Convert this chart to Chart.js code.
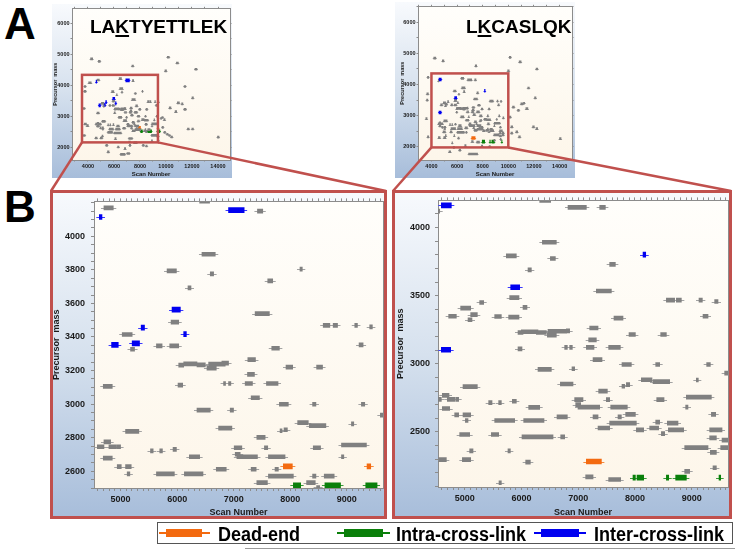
<!DOCTYPE html>
<html><head><meta charset="utf-8">
<script src="https://cdn.jsdelivr.net/npm/chart.js@4.4.1/dist/chart.umd.min.js"></script>
<style>
body{margin:0;width:737px;height:549px;background:#fff;position:relative;overflow:hidden;font-family:"Liberation Sans",Arial,sans-serif;}
.abs{position:absolute;}
canvas{display:block;}
.frameB{position:absolute;border:3px solid #c0504d;box-sizing:border-box;pointer-events:none;}
.big{position:absolute;font-weight:bold;font-size:44px;line-height:44px;color:#000;}
.pep{position:absolute;font-weight:bold;font-size:19px;line-height:19px;color:#000;white-space:nowrap;}
.pep u{text-decoration-thickness:2px;text-underline-offset:2px;}
.lt{position:absolute;font-weight:bold;font-size:20px;line-height:20px;color:#000;white-space:nowrap;transform:scaleX(0.9);transform-origin:left top;}
</style></head><body>

<div class="abs" style="left:52px;top:4px;"><canvas id="cA1" width="180" height="174"></canvas></div>
<div class="abs" style="left:395px;top:2px;"><canvas id="cA2" width="180" height="176"></canvas></div>
<div class="abs" style="left:50px;top:190px;"><canvas id="cB1" width="337" height="329"></canvas></div>
<div class="abs" style="left:392px;top:190px;"><canvas id="cB2" width="340" height="329"></canvas></div>
<div class="frameB" style="left:50px;top:190px;width:337px;height:329px;"></div>
<div class="frameB" style="left:392px;top:190px;width:340px;height:329px;"></div>

<div class="big" style="left:4px;top:2px;">A</div>
<div class="big" style="left:4px;top:185px;">B</div>
<div class="pep" style="left:90px;top:17px;">LA<u>K</u>TYETTLEK</div>
<div class="pep" style="left:466px;top:17px;">L<u>K</u>CASLQK</div>

<svg class="abs" id="conn" width="737" height="549" style="left:0;top:0;pointer-events:none;"></svg>

<div class="abs" style="left:157px;top:522px;width:576px;height:22px;border:1px solid #555;box-sizing:border-box;background:#fff;"></div>
<div class="abs" style="left:245px;top:548px;width:490px;height:1px;background:#9a9a9a;"></div>
<div class="abs" style="left:159px;top:532px;width:51px;height:2px;background:#f36a10;"></div>
<div class="abs" style="left:166px;top:529px;width:36px;height:8px;background:#f36a10;"></div>
<div class="lt" style="left:218px;top:524px;">Dead-end</div>
<div class="abs" style="left:337px;top:532px;width:53px;height:2px;background:#0a7f0a;"></div>
<div class="abs" style="left:344px;top:529px;width:39px;height:8px;background:#0a7f0a;"></div>
<div class="lt" style="left:396px;top:524px;">Intra-cross-link</div>
<div class="abs" style="left:534px;top:532px;width:52px;height:2px;background:#0000f0;"></div>
<div class="abs" style="left:541px;top:529px;width:38px;height:8px;background:#0000f0;"></div>
<div class="lt" style="left:594px;top:524px;">Inter-cross-link</div>

<script>
// ---------- DATA: [scan start, scan end, precursor mass] ----------
// LAKTYETTLEK (zoomed region, panel B left)
const leftGray = [
[4706,4871,4169],[6398,6574,4210],[7420,7514,4150],[6439,6674,3893],[5822,5987,3794],[6586,6645,3776],
[7602,7690,3734],[8172,8213,3804],[6192,6245,3693],[7379,7631,3539],[5893,6028,3489],[5029,5205,3415],
[5176,5247,3327],[5634,5734,3347],[5869,6028,3347],[8583,8700,3469],[8759,8836,3469],[9141,9188,3469],
[9405,9452,3460],[9217,9288,3353],[7673,7808,3333],[7250,7385,3265],[6028,6116,3232],[6116,6351,3240],
[6351,6498,3234],[6527,6692,3214],[6557,6850,3238],[6791,6909,3244],[7925,8043,3220],[8466,8571,3220],
[7244,7367,3177],[4694,4853,3106],[6016,6098,3113],[6821,6856,3123],[6909,6950,3123],[7203,7332,3123],
[7579,7784,3123],[7309,7455,3038],[7808,7966,2999],[8395,8454,2999],[9258,9317,2999],[9593,9650,2934],
[6351,6586,2964],[6938,6997,2964],[9082,9123,2882],[8131,8319,2890],[8337,8630,2872],[6733,6968,2857],
[5088,5323,2837],[7820,7855,2841],[7890,7949,2847],[7409,7556,2802],[4706,4824,2775],[4589,4706,2746],
[4794,4929,2746],[4941,5000,2746],[5529,5576,2721],[5693,5740,2721],[5928,5987,2730],[7009,7144,2740],
[7543,7602,2740],[8906,9347,2756],[8407,8536,2740],[4694,4853,2678],[6216,6398,2686],[7027,7115,2701],
[7056,7420,2686],[7614,7908,2686],[8906,8947,2686],[4941,5012,2627],[5088,5188,2627],[5117,5164,2584],
[5634,5951,2584],[6128,6457,2584],[6692,6868,2612],[7309,7397,2612],[7731,7790,2612],[7614,8055,2571],
[8395,8454,2571],[8601,8777,2571],[7409,7596,2532],[8289,8442,2532],[8466,8520,2503]
];
const leftBlue = [[4624,4671,4115],[6909,7185,4156],[5910,6057,3563],[5364,5423,3456],[6116,6163,3417],[4841,4959,3353],[5205,5335,3362]];
const leftOrange = [[7878,8037,2629],[9358,9423,2629]];
const leftGreen = [[8055,8184,2516],[8613,8889,2516],[9335,9535,2516]];
// LAKTYETTLEK overview marks outside the zoomed region (panel A left)
const leftOverviewExtra = [
[4200,4360,4850],[4800,4940,4770],[7380,7500,4620],[10100,10250,4900],[10800,10950,4715],[9920,10040,4460],[12230,12380,4515],
[11400,11520,3960],[12000,12110,3590],[10870,11030,3430],[10250,10380,3270],[11390,11540,3220],[11200,11300,3400],[10700,10820,3150],
[9680,9780,2960],[9830,9930,2890],[9700,9800,2640],[9850,9960,2480],[10050,10160,2420],[10380,10500,2330],[10220,10320,2380],
[11650,11780,2590],[11990,12110,2590],[13960,14080,2325],
[3700,3840,3800],[3720,3830,3960],[3640,3760,3250],[3650,3780,2380],[3720,3880,2750],[3900,4030,2700],[4050,4250,4080],
[4560,4700,2300],[4950,5100,2300],[5520,5880,2480],[6010,6560,2460],[5080,5150,2360],[6070,6160,2280],[7140,7410,2283],
[8880,9290,2385],[9320,9440,2350],[7130,7260,2170],[7540,7750,2150],[8880,8960,2210],[9380,9440,2240],
[5380,5500,2060],[6280,6380,2010],[7180,7280,2060],[8200,8310,2060],[8450,8550,2040],[5500,5620,1850],[6800,6900,1960],[6500,6850,1770],[7000,7200,1800]
];

// LKCASLQK (zoomed region, panel B right)
const rightGray = [
[6322,6515,4199],[6821,7144,4148],[7379,7479,4148],[4530,4560,4120],[6369,6615,3892],[5734,5910,3792],
[6510,6598,3773],[7555,7655,3730],[6116,6175,3689],[7320,7585,3534],[5793,5957,3486],[5264,5335,3450],
[4929,5106,3409],[6028,6098,3414],[5106,5223,3361],[4718,4853,3349],[5059,5129,3323],[5529,5646,3347],
[5775,5957,3342],[8554,8700,3467],[8730,8818,3467],[9129,9188,3467],[9405,9464,3457],[9200,9288,3349],
[7631,7790,3335],[7203,7350,3263],[5940,6028,3230],[5998,6292,3235],[6263,6439,3230],[6457,6615,3211],
[6468,6791,3239],[6791,6850,3242],[7896,8008,3215],[8454,8554,3215],[7185,7320,3175],[5940,6010,3110],
[6762,6809,3120],[6850,6897,3120],[7144,7279,3120],[7537,7743,3120],[7262,7420,3031],[7772,7937,2995],
[8366,8436,2995],[9264,9329,2995],[9581,9650,2931],[6292,6527,2959],[6891,6938,2964],[8113,8301,2883],
[8319,8612,2869],[9082,9117,2881],[6686,6909,2852],[4971,5223,2833],[7772,7819,2835],[7849,7908,2847],
[7361,7514,2799],[4606,4724,2768],[4530,4589,2739],[4694,4824,2739],[4841,4894,2739],[5423,5482,2715],
[5599,5646,2715],[5840,5910,2725],[6938,7085,2737],[7496,7555,2737],[8906,9347,2756],[8384,8513,2737],
[4606,4736,2672],[6128,6322,2680],[6956,7044,2701],[6997,7379,2682],[7573,7866,2682],[8894,8935,2682],
[4824,4894,2625],[4971,5106,2625],[7837,8008,2629],[9347,9423,2629],[5012,5059,2584],[5529,5881,2584],
[6040,6398,2584],[6627,6809,2610],[7262,7350,2610],[7702,7761,2610],[7555,8025,2565],[8366,8436,2572],
[8571,8759,2565],[7350,7555,2529],[8260,8418,2529],[8025,8154,2515],[8589,8859,2515],[9317,9535,2515],
[8466,8524,2488],[4912,5088,2481],[5470,5599,2481],[6010,6557,2464],[6692,6762,2464],[9317,9435,2457],
[9535,9650,2440],[8877,9288,2385],[9511,9650,2385],[9329,9435,2350],[5088,5147,2361],[5763,5805,2361],
[4542,4677,2297],[4959,5106,2297],[6075,6157,2278],[9376,9435,2237],[8877,8965,2211],[7132,7262,2170],
[7537,7749,2151],[5605,5646,2127]
];
const rightBlue = [[4589,4765,4163],[8143,8190,3801],[5811,5969,3562],[4589,4753,3103]];
const rightOrange = [[7144,7409,2283]];
const rightGreen = [[7966,8008,2165],[8037,8154,2165],[8554,8595,2165],[8718,8906,2165],[9482,9511,2165]];
// LKCASLQK overview marks outside the zoomed region (panel A right)
const rightOverviewExtra = [
[4180,4340,4850],[4850,4970,4760],[7420,7530,4600],[10080,10200,4870],[10850,11000,4730],[9950,10070,4440],[12170,12300,4500],
[11520,11640,3890],[12050,12160,3570],[10980,11140,3380],[10330,10470,3275],[11370,11530,3225],[11180,11280,3400],[10730,10850,3170],
[10080,10200,2955],[10210,10340,2640],[10600,10730,2480],[10810,10940,2320],[10210,10330,2440],[11900,12030,2640],[12170,12290,2585],[14000,14120,2265],
[3560,3660,2905],[3690,3790,2320],[3690,3790,4230],[3620,3720,3500],[3640,3760,3700],
[5370,5500,1840],[6160,6280,1895],[6900,7600,1770],[5700,5800,1980],[6600,6700,2040],[7900,8000,2020],[8500,8600,2010]
];

// Tick labels
const scanLabelsB = [5000,6000,7000,8000,9000];
const massLabelsBLeft = [2600,2800,3000,3200,3400,3600,3800,4000];
const massLabelsBRight = [2500,3000,3500,4000];
const scanLabelsA = [4000,6000,8000,10000,12000,14000];
const massLabelsA = [2000,3000,4000,5000,6000];

// Axis ranges and zoom boxes [scanMin, scanMax, massMin, massMax]
const rangeA1 = [2770,14923,1590,6479];
const rangeA2 = [2950,14973,1576,6513];
const rangeB1 = [4530,9640,2500,4208];
const rangeB2 = [4530,9640,2096,4199];
const zoomBoxA1 = [3540,9380,2158,4334];
const zoomBoxA2 = [4000,10000,1980,4357];

// ---------- rendering ----------
Chart.defaults.font.family = '"Liberation Sans", Arial, sans-serif';
const GRAY='#808080', BLUE='#0000f0', GREEN='#0a7f0a', ORANGE='#f36a10';

const framePlugin = {
  id:'frame',
  beforeDraw(chart){
    const {ctx,width,height,chartArea:a} = chart;
    ctx.save();
    const g = ctx.createLinearGradient(0,0,0,height);
    g.addColorStop(0,'#f8fafd'); g.addColorStop(0.5,'#d6e1ee'); g.addColorStop(1,'#a7bdda');
    ctx.fillStyle=g; ctx.fillRect(0,0,width,height);
    const g2 = ctx.createLinearGradient(0,a.top,0,a.bottom);
    g2.addColorStop(0,'#fffefb'); g2.addColorStop(1,'#fdf6ea');
    ctx.fillStyle=g2; ctx.fillRect(a.left,a.top,a.right-a.left,a.bottom-a.top);
    ctx.restore();
  }
};
const whiskerPlugin = {
  id:'whisker',
  beforeDatasetsDraw(chart,args,opts){
    const ctx=chart.ctx, a=chart.chartArea, ext=opts.ext||0;
    ctx.save(); ctx.beginPath(); ctx.rect(a.left,a.top,a.right-a.left,a.bottom-a.top); ctx.clip();
    ctx.lineWidth=1;
    chart.data.datasets.forEach((ds,i)=>{
      ctx.strokeStyle=ds.whiskerColor;
      chart.getDatasetMeta(i).data.forEach(el=>{
        const x0=Math.min(el.x,el.base)-ext, x1=Math.max(el.x,el.base)+ext;
        const y=Math.round(el.y)+0.5;
        ctx.beginPath(); ctx.moveTo(x0,y); ctx.lineTo(x1,y); ctx.stroke();
      });
    });
    ctx.restore();
  }
};
const boxPlugin = {
  id:'zoomBox',
  afterDatasetsDraw(chart,args,opts){
    if(!opts.box) return;
    const [x0,x1,y0,y1]=opts.box, sx=chart.scales.x, sy=chart.scales.y, ctx=chart.ctx;
    const L=sx.getPixelForValue(x0), R=sx.getPixelForValue(x1), T=sy.getPixelForValue(y1), B=sy.getPixelForValue(y0);
    ctx.save(); ctx.strokeStyle='#c0504d'; ctx.lineWidth=2.5; ctx.strokeRect(L,T,R-L,B-T); ctx.restore();
  }
};

// regular tick positions every `step` inside the axis range
const stepTicks = step => s => {
  const t=[];
  for (let v=Math.ceil(s.min/step)*step; v<=s.max+1e-9; v+=step) t.push({value:v});
  s.ticks=t;
};

function build(id,o){
  const mk = s => ({
    data: s.rows.map(r=>({x:[r[0],r[1]], y:r[2]})),
    backgroundColor:s.color, whiskerColor:s.whisker, barThickness:s.thick,
    borderWidth:0, grouped:false, xAxisID:'x', yAxisID:'y'
  });
  const lab = list => v => list.includes(v) ? String(v) : '';
  const fit = (prop,val) => s => { s[prop]=val; };
  const grid = () => ({display:true, drawOnChartArea:false, drawTicks:true, tickLength:o.tl, color:'#8c8c8c', offset:false});
  const border = {display:true, color:'#8c8c8c', width:1};
  const r=o.range;
  return new Chart(document.getElementById(id),{
    type:'bar',
    data:{datasets:o.series.map(mk)},
    options:{
      indexAxis:'y', responsive:false, animation:false, events:[],
      layout:{padding:{left:0,right:0,top:o.padTop,bottom:0}},
      plugins:{legend:{display:false}, tooltip:{enabled:false}, whisker:{ext:o.ext}, zoomBox:{box:o.box||null}},
      scales:{
        x:{type:'linear',position:'bottom',min:r[0],max:r[1],
          ticks:{autoSkip:false,maxRotation:0,callback:lab(o.xLabels),font:o.tickFont,color:'#1a1a1a',padding:o.xPad},
          afterBuildTicks:stepTicks(o.xStep),
          grid:grid(), border,
          title:{display:true,text:'Scan Number',font:o.xTitleFont,color:'#1a1a1a',padding:{top:0,bottom:o.xTitlePad}},
          afterFit:fit('height',o.xH)},
        y:{type:'linear',position:'left',offset:false,min:r[2],max:r[3],
          ticks:{autoSkip:false,callback:lab(o.yLabels),font:o.tickFont,color:'#1a1a1a',padding:o.yPad},
          afterBuildTicks:stepTicks(o.yStep),
          grid:grid(), border,
          title:{display:true,text:'Precursor  mass',font:o.yTitleFont,color:'#1a1a1a',padding:{top:o.yTitlePad,bottom:0}},
          afterFit:fit('width',o.yW)},
        x2:{type:'linear',position:'top',min:r[0],max:r[1],
          ticks:{display:false,autoSkip:false},
          afterBuildTicks:stepTicks(o.xStep),
          grid:grid(), border, afterFit:fit('height',o.x2H)},
        y2:{type:'linear',position:'right',offset:false,min:r[2],max:r[3],
          ticks:{display:false,autoSkip:false},
          afterBuildTicks:stepTicks(o.yStep),
          grid:grid(), border, afterFit:fit('width',o.y2W)}
      }
    },
    plugins:[framePlugin,whiskerPlugin,boxPlugin]
  });
}

function seriesSet(gray,orange,green,blue,tg,tc){
  return [
    {rows:gray,color:GRAY,whisker:'#a3a3a3',thick:tg},
    {rows:orange,color:ORANGE,whisker:'#f58a40',thick:tc},
    {rows:green,color:GREEN,whisker:'#3a9a3a',thick:tc},
    {rows:blue,color:BLUE,whisker:'#3a3aff',thick:tc}
  ];
}

const fA = {tickFont:{size:5.5,weight:'bold'}, xTitleFont:{size:6,weight:'bold'}, yTitleFont:{size:5.5,weight:'bold'}};
const fB = {tickFont:{size:9,weight:'bold'}, xTitleFont:{size:9,weight:'bold'}, yTitleFont:{size:9,weight:'bold'}};

const cA1 = build('cA1', Object.assign({
  series:seriesSet(leftGray.concat(leftOverviewExtra),leftOrange,leftGreen,leftBlue,2,3),
  range:rangeA1, box:zoomBoxA1, xStep:1000, yStep:500, xLabels:scanLabelsA, yLabels:massLabelsA,
  yW:20, y2W:2, x2H:1, padTop:1, xH:18, tl:1.5, xPad:2, yPad:1, xTitlePad:0, yTitlePad:0, ext:1
}, fA));
const cA2 = build('cA2', Object.assign({
  series:seriesSet(rightGray.concat(rightOverviewExtra),rightOrange,rightGreen,rightBlue,2,3),
  range:rangeA2, box:zoomBoxA2, xStep:1000, yStep:500, xLabels:scanLabelsA, yLabels:massLabelsA,
  yW:23, y2W:3, x2H:1, padTop:3, xH:18, tl:1.5, xPad:2, yPad:1, xTitlePad:0, yTitlePad:4, ext:1
}, fA));
const cB1 = build('cB1', Object.assign({
  series:seriesSet(leftGray,leftOrange,leftGreen,leftBlue,4,5),
  range:rangeB1, xStep:100, yStep:50, xLabels:scanLabelsB, yLabels:massLabelsBLeft,
  yW:44, y2W:4, x2H:3, padTop:2, xH:31, tl:3, xPad:3, yPad:6, xTitlePad:1, yTitlePad:1.3, ext:3
}, fB));
const cB2 = build('cB2', Object.assign({
  series:seriesSet(rightGray,rightOrange,rightGreen,rightBlue,4,5),
  range:rangeB2, xStep:100, yStep:100, xLabels:scanLabelsB, yLabels:massLabelsBRight,
  yW:46, y2W:4, x2H:3, padTop:1, xH:32, tl:3, xPad:3, yPad:5, xTitlePad:1, yTitlePad:3.3, ext:3
}, fB));

// connector lines from overview zoom boxes to the zoomed panels
function corners(ch,box,ox,oy){
  const sx=ch.scales.x, sy=ch.scales.y;
  const yb=oy+sy.getPixelForValue(box[2]);
  return [[ox+sx.getPixelForValue(box[0]),yb],[ox+sx.getPixelForValue(box[1]),yb]];
}
const svg=document.getElementById('conn');
function line(p,q){
  const l=document.createElementNS('http://www.w3.org/2000/svg','line');
  l.setAttribute('x1',p[0]);l.setAttribute('y1',p[1]);l.setAttribute('x2',q[0]);l.setAttribute('y2',q[1]);
  l.setAttribute('stroke','#c0504d');l.setAttribute('stroke-width','2.5');
  svg.appendChild(l);
}
const k1=corners(cA1,zoomBoxA1,52,4), k2=corners(cA2,zoomBoxA2,395,2);
line(k1[0],[51,191]); line(k1[1],[386,191]);
line(k2[0],[393,191]); line(k2[1],[731,191]);
</script>
</body></html>
